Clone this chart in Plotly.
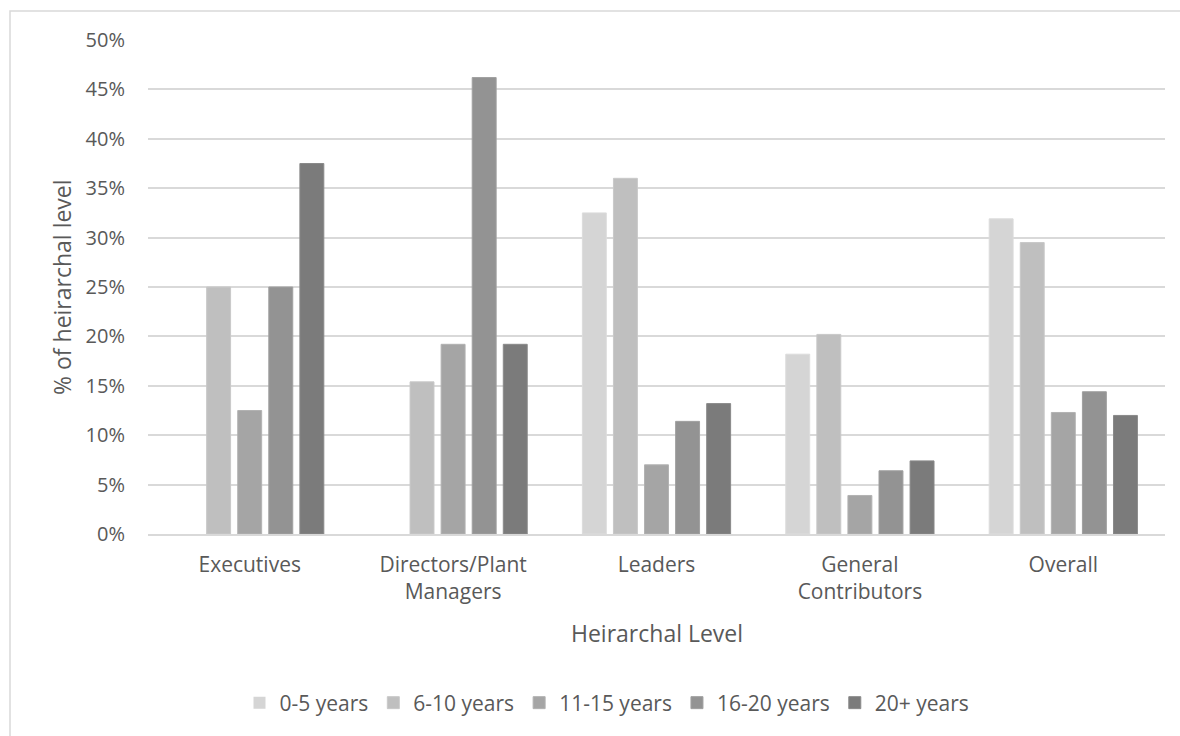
import plotly.graph_objects as go

# Share of each hierarchical level by tenure band (%)
levels = ["Executives", "Directors/Plant<br>Managers", "Leaders", "General<br>Contributors", "Overall"]
tenure_bands = ["0-5 years", "6-10 years", "11-15 years", "16-20 years", "20+ years"]

yrs_0_5 = [0.0, 0.0, 32.5, 18.2, 31.9]
yrs_6_10 = [25.0, 15.4, 36.0, 20.2, 29.5]
yrs_11_15 = [12.5, 19.2, 7.0, 3.9, 12.3]
yrs_16_20 = [25.0, 46.2, 11.4, 6.4, 14.4]
yrs_20_plus = [37.5, 19.2, 13.2, 7.4, 12.0]

series = [yrs_0_5, yrs_6_10, yrs_11_15, yrs_16_20, yrs_20_plus]
fills = ["#d5d5d5", "#bfbfbf", "#a5a5a5", "#939393", "#7b7b7b"]
edges = ["#dcdcdc", "#c9c9c9", "#b2b2b2", "#a0a0a0", "#8a8a8a"]

font_family = "Open Sans, Segoe UI, DejaVu Sans, sans-serif"
text_color = "#595959"

fig = go.Figure()
for name, vals, fc, ec in zip(tenure_bands, series, fills, edges):
    fig.add_trace(go.Bar(
        x=levels, y=[v / 100 for v in vals], name=name,
        # no outline on empty bars so nothing is drawn at zero
        marker=dict(color=fc, line=dict(color=ec, width=[1 if v > 0 else 0 for v in vals])),
    ))

# plot area: x 148..1165, y 40..534 in a 1180x736 page
L, R, T, B = 148, 15, 40, 202
W, H = 1180 - L - R, 736 - T - B

def px_x(x):
    return (x - L) / W

def px_y(y):
    return (736 - B - y) / H

fig.update_layout(
    width=1180, height=736,
    margin=dict(l=L, r=R, t=T, b=B),
    paper_bgcolor="white", plot_bgcolor="white",
    barmode="group", bargap=0.236, bargroupgap=0.23,
    font=dict(family=font_family, color=text_color, size=21),
    showlegend=True,
    legend=dict(
        orientation="h", x=px_x(607), y=px_y(703), xanchor="center", yanchor="middle",
        font=dict(size=21, color=text_color), traceorder="normal",
    ),
    xaxis=dict(
        showgrid=False, showline=True, linecolor="#d9d9d9", linewidth=1.5,
        ticks="", tickfont=dict(size=21, color=text_color), fixedrange=True,
        ticklabelstandoff=11,
    ),
    yaxis=dict(
        range=[0, 0.5], dtick=0.05, tickformat=".0%",
        showgrid=True, gridcolor="#d9d9d9", gridwidth=1.5,
        zeroline=False, showline=False, ticks="",
        tickfont=dict(size=20, color=text_color), ticklabelstandoff=22,
    ),
    annotations=[
        dict(text="Heirarchal Level", xref="paper", yref="paper",
             x=px_x(657), y=px_y(633), xanchor="center", yanchor="middle",
             showarrow=False, font=dict(size=23, color=text_color)),
        dict(text="% of heirarchal level", xref="paper", yref="paper",
             x=px_x(62), y=px_y(287), xanchor="center", yanchor="middle",
             textangle=-90, showarrow=False, font=dict(size=23, color=text_color)),
    ],
    shapes=[
        dict(type="rect", xref="paper", yref="paper",
             x0=px_x(10), x1=px_x(1190), y0=px_y(750), y1=px_y(11),
             line=dict(color="#d9d9d9", width=1.5), fillcolor="rgba(0,0,0,0)", layer="below"),
    ],
)

fig.write_html("out.html")
